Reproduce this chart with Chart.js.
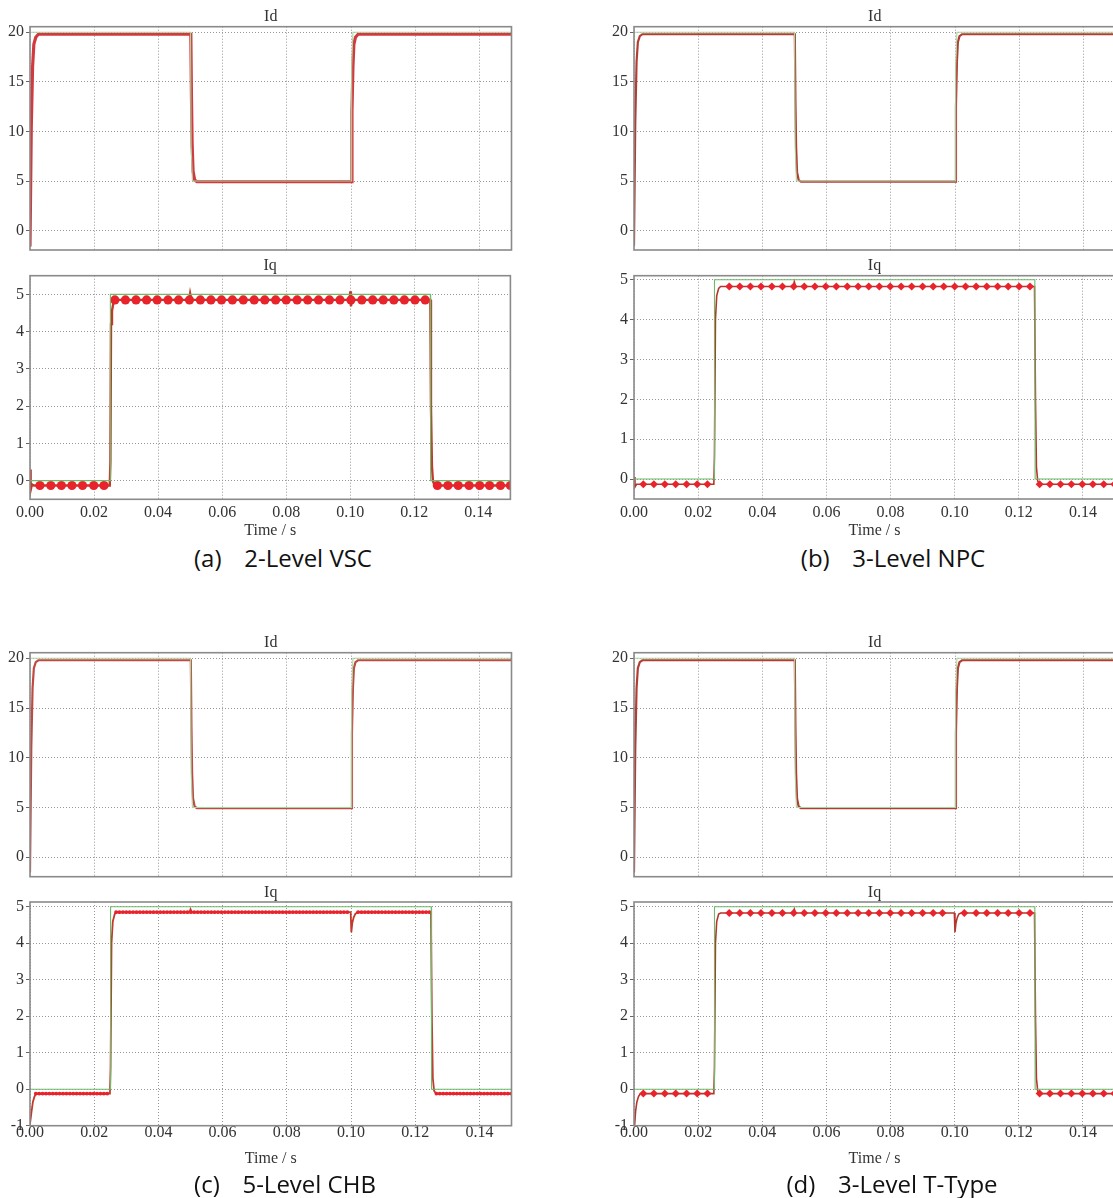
<!DOCTYPE html>
<html>
<head>
<meta charset="utf-8">
<title>Id / Iq current control</title>
<script src="https://cdn.jsdelivr.net/npm/chart.js@4.4.1/dist/chart.umd.min.js"></script>
<style>
  html, body { margin: 0; padding: 0; background: #fff; }
  #page { position: relative; width: 1113px; height: 1198px; overflow: hidden; }
  .plot { position: absolute; }
  .caption {
    position: absolute; transform: translate(-50%, -50%);
    font-family: "Open Sans", "Noto Sans", sans-serif; font-size: 24px; line-height: 1;
    color: #111; white-space: pre;
  }
</style>
</head>
<body>
<div id="page"></div>
<script>
// ---- axis ticks ----
const timeTicks = [0, 0.02, 0.04, 0.06, 0.08, 0.10, 0.12, 0.14];
const idTicks = [0, 5, 10, 15, 20];
const iqTicks = [0, 1, 2, 3, 4, 5];
const iqTicksNeg = [-1, 0, 1, 2, 3, 4, 5];

// ---- Id reference (green) ----
const idRefT = [0, 0.0500, 0.0502, 0.0506, 0.1000, 0.1002, 0.1006, 0.15];
const idRefV = [20, 20, 8.5, 5, 5, 16.5, 20, 20];

// ---- Id measured (red) ----
const idT = [0, 0.0004, 0.0008, 0.0012, 0.0018, 0.0026, 0.0501, 0.0503, 0.0505, 0.0508, 0.0513, 0.0520,
             0.1000, 0.1003, 0.1006, 0.1009, 0.1014, 0.1022, 0.15];
const idA = [-1.6, 10.5, 16.5, 18.8, 19.5, 19.8, 19.8, 13.5, 8.8, 6.0, 5.1, 4.95, 4.95, 12.0, 16.5, 18.8, 19.5, 19.8, 19.8];
const idB = [-1.5, 11.0, 17.0, 19.0, 19.6, 19.8, 19.8, 13.0, 8.5, 5.9, 5.1, 4.95, 4.95, 12.5, 17.0, 19.0, 19.6, 19.8, 19.8];
const idC = [-1.5, 11.0, 17.0, 19.0, 19.6, 19.8, 19.8, 13.0, 8.5, 5.9, 5.1, 4.95, 4.95, 12.5, 17.0, 19.0, 19.6, 19.8, 19.8];
const idD = [-1.5, 11.0, 17.0, 19.0, 19.6, 19.8, 19.8, 13.0, 8.5, 5.9, 5.1, 4.95, 4.95, 12.5, 17.0, 19.0, 19.6, 19.8, 19.8];

// ---- Iq reference (green) ----
const iqRefT = [0, 0.0250, 0.0251, 0.1250, 0.1251, 0.15];
const iqRefV = [0, 0, 5, 5, 0, 0];

// ---- Iq measured (red) ----
const iqTA = [0, 0.0002, 0.0006, 0.0012, 0.0249, 0.0251, 0.0253, 0.0256, 0.0260, 0.0266, 0.0497, 0.0500, 0.0504,
              0.0998, 0.1000, 0.1002, 0.1006, 0.1250, 0.1252, 0.1255, 0.1258, 0.1262, 0.1268, 0.15];
const iqA = [0.3, -0.25, -0.1, -0.13, -0.13, 0.5, 4.2, 4.55, 4.75, 4.85, 4.85, 5.02, 4.85,
             4.85, 5.08, 4.68, 4.85, 4.85, 2.0, 0.4, 0.0, -0.1, -0.13, -0.13];
const iqTB = [0, 0.0003, 0.0008, 0.0249, 0.0251, 0.0254, 0.0258, 0.0264, 0.0270, 0.0497, 0.0500, 0.0504,
              0.1249, 0.1252, 0.1255, 0.1259, 0.1265, 0.15];
const iqB = [0.05, -0.2, -0.13, -0.13, 0.6, 4.0, 4.6, 4.78, 4.83, 4.83, 4.95, 4.83,
             4.83, 2.0, 0.3, -0.05, -0.13, -0.13];
const iqTC = [0, 0.0002, 0.0005, 0.0009, 0.0014, 0.0020, 0.0249, 0.0251, 0.0254, 0.0258, 0.0264, 0.0270,
              0.0497, 0.0500, 0.0504, 0.0999, 0.1001, 0.1004, 0.1008, 0.1013, 0.1020,
              0.1249, 0.1252, 0.1255, 0.1259, 0.1265, 0.15];
const iqC = [-0.95, -0.95, -0.6, -0.35, -0.2, -0.12, -0.12, 0.6, 4.0, 4.6, 4.8, 4.85,
             4.85, 4.93, 4.85, 4.85, 4.3, 4.55, 4.7, 4.8, 4.85,
             4.85, 2.0, 0.3, -0.05, -0.12, -0.12];
const iqD = [-1.0, -0.98, -0.6, -0.35, -0.2, -0.12, -0.12, 0.6, 4.0, 4.6, 4.8, 4.83,
             4.83, 4.93, 4.83, 4.83, 4.3, 4.55, 4.7, 4.8, 4.83,
             4.83, 2.0, 0.3, -0.05, -0.12, -0.12];

// ---- ripple beads on Iq (times) ----
const beadHighA = [0.0265, 0.0298, 0.0331, 0.0364, 0.0397, 0.0431, 0.0464, 0.0498, 0.0532, 0.0565, 0.0598, 0.0632,
                   0.0666, 0.0700, 0.0733, 0.0767, 0.0800, 0.0834, 0.0867, 0.0901, 0.0935, 0.0968, 0.1002,
                   0.1036, 0.1070, 0.1103, 0.1136, 0.1169, 0.1202, 0.1234];
const beadLowA = [0.0031, 0.0065, 0.0098, 0.0131, 0.0164, 0.0199, 0.0231,
                  0.1272, 0.1305, 0.1337, 0.1371, 0.1404, 0.1435, 0.1469, 0.1500];
const beadHighB = [0.0297, 0.0330, 0.0363, 0.0396, 0.0430, 0.0463, 0.0498, 0.0531, 0.0564, 0.0598, 0.0631,
                   0.0665, 0.0699, 0.0732, 0.0765, 0.0799, 0.0833, 0.0866, 0.0900, 0.0933, 0.0966, 0.1000,
                   0.1034, 0.1067, 0.1100, 0.1134, 0.1167, 0.1201, 0.1235];
const beadHighD = [0.0297, 0.0330, 0.0363, 0.0396, 0.0430, 0.0463, 0.0498, 0.0531, 0.0564, 0.0598, 0.0631,
                   0.0665, 0.0699, 0.0732, 0.0765, 0.0799, 0.0833, 0.0866, 0.0900, 0.0933, 0.0962,
                   0.1030, 0.1067, 0.1100, 0.1134, 0.1167, 0.1201, 0.1235];
const beadLowB = [0.0029, 0.0062, 0.0096, 0.0130, 0.0164, 0.0197, 0.0229,
                  0.1265, 0.1297, 0.1330, 0.1364, 0.1398, 0.1431, 0.1465, 0.1498];
const beadLevelsA = [4.85, -0.13];
const beadLevelsB = [4.83, -0.13];
const beadLevelsD = [4.83, -0.12];
// 5-level CHB: fine ripple along the steady spans (start, end pairs)
const chbHighSpans = [0.0268, 0.0998, 0.1022, 0.1249];
const chbLowSpans = [0.0018, 0.0249, 0.1266, 0.1500];
const chbLevels = [4.85, -0.12];

// ---- style ----
const SERIF = '"Liberation Serif", "DejaVu Serif", serif';
const GRID = '#969696';
const GREEN = '#6dbb6a';
const GREEN_ID = '#a8d6a0';
const BEAD = '#e8232b';
const GUTTER = 30;
const FS = 16;

function pts(ts, vs) { return ts.map((t, i) => ({ x: t, y: vs[i] })); }
function flat(ts, v) { return ts.map(t => ({ x: t, y: v })); }

function refLine(ts, vs, color) {
  return { data: pts(ts, vs), borderColor: color || GREEN, borderWidth: 1.1, pointRadius: 0, tension: 0 };
}
function measLine(ts, vs, color, width) {
  return { data: pts(ts, vs), borderColor: color, borderWidth: width, pointRadius: 0, tension: 0 };
}
function beads(ts, v, style, r) {
  return { data: flat(ts, v), showLine: false, pointStyle: style, pointRadius: r,
           pointBackgroundColor: BEAD, pointBorderWidth: 0, pointHoverRadius: r };
}
function chain(spans, v) {
  const out = [];
  for (let i = 0; i < spans.length; i += 2) {
    out.push({ data: flat([spans[i], spans[i + 1]], v), borderColor: BEAD, borderWidth: 3.8,
               borderDash: [0.1, 3.3], borderCapStyle: 'round', pointRadius: 0 });
  }
  return out;
}

// grey box around the plot area + subplot title centred over it
const framePlugin = {
  id: 'frame',
  afterDraw(chart, args, opts) {
    const { ctx, chartArea: a } = chart;
    ctx.save();
    ctx.strokeStyle = '#8a8a8a';
    ctx.lineWidth = 1.6;
    ctx.strokeRect(a.left, a.top, a.right - a.left, a.bottom - a.top);
    ctx.fillStyle = '#333';
    ctx.font = FS + 'px ' + SERIF;
    ctx.textAlign = 'center';
    ctx.textBaseline = 'middle';
    ctx.fillText(opts.title, (a.left + a.right) / 2, a.top - 9.5);
    ctx.restore();
  }
};

const page = document.getElementById('page');

function makePlot(box, title, datasets, yMin, yMax, yTicks, showTime, tickPad) {
  const canvasLeft = box.left - GUTTER;
  const canvasTop = Math.floor(box.top - 21);
  const padTop = box.top - canvasTop;
  const height = Math.ceil(box.top + box.height + box.below - canvasTop);
  const xAxisH = height - padTop - box.height;
  const width = Math.ceil(GUTTER + box.width + 3);
  const rightPad = width - GUTTER - box.width;

  const canvas = document.createElement('canvas');
  canvas.className = 'plot';
  canvas.style.left = canvasLeft + 'px';
  canvas.style.top = canvasTop + 'px';
  canvas.style.width = width + 'px';
  canvas.style.height = height + 'px';
  canvas.width = width;
  canvas.height = height;
  page.appendChild(canvas);

  new Chart(canvas, {
    type: 'line',
    data: { datasets },
    plugins: [framePlugin],
    options: {
      responsive: false,
      animation: false,
      devicePixelRatio: 1,
      events: [],
      layout: { padding: { top: padTop, right: rightPad, left: 0, bottom: 0 } },
      plugins: {
        legend: { display: false },
        tooltip: { enabled: false },
        frame: { title }
      },
      scales: {
        x: {
          type: 'linear', min: 0, max: 0.15,
          afterBuildTicks: s => { s.ticks = timeTicks.map(v => ({ value: v })); },
          afterFit: s => { s.height = xAxisH; s.paddingLeft = 0; s.paddingRight = 0; s.paddingTop = 0; s.paddingBottom = 0; },
          grid: { color: GRID, lineWidth: 1, drawTicks: false },
          border: { display: false, dash: [1, 2] },
          ticks: {
            display: showTime, padding: tickPad, color: '#333', autoSkip: false, maxRotation: 0,
            font: { family: SERIF, size: FS, lineHeight: 1.2 },
            callback: v => v.toFixed(2)
          },
          title: {
            display: showTime, text: 'Time / s', color: '#333', padding: 0,
            font: { family: SERIF, size: FS, lineHeight: 1.2 }
          }
        },
        y: {
          min: yMin, max: yMax,
          afterBuildTicks: s => { s.ticks = yTicks.map(v => ({ value: v })); },
          afterFit: s => { s.width = GUTTER; s.paddingTop = 0; s.paddingBottom = 0; },
          grid: { color: GRID, lineWidth: 1, drawTicks: true, tickLength: 4, tickColor: '#666', tickWidth: 1, tickBorderDash: [] },
          border: { display: false, dash: [1, 2] },
          ticks: {
            padding: 2, color: '#333', autoSkip: false,
            font: { family: SERIF, size: FS },
            callback: v => String(v)
          }
        }
      }
    }
  });
}

function caption(text, x, y) {
  const d = document.createElement('div');
  d.className = 'caption';
  d.textContent = text;
  d.style.left = x + 'px';
  d.style.top = y + 'px';
  page.appendChild(d);
}

const ID_MIN = -1.95, ID_MAX = 20.56;

// (a) 2-Level VSC
makePlot({ left: 30, top: 26.7, width: 481.5, height: 223.3, below: 3 }, 'Id',
  [refLine(idRefT, idRefV, GREEN_ID), measLine(idT, idA, '#d23a3f', 3.2)],
  ID_MIN, ID_MAX, idTicks, false, 0);
makePlot({ left: 30, top: 275.7, width: 481.5, height: 223.6, below: 39.8 }, 'Iq',
  [refLine(iqRefT, iqRefV),
   beads(beadHighA, beadLevelsA[0], 'circle', 4.6),
   beads(beadLowA, beadLevelsA[1], 'circle', 4.6),
   measLine(iqTA, iqA, '#c0392b', 2.4)],
  -0.5, 5.5, iqTicks, true, 4.1);

// (b) 3-Level NPC
makePlot({ left: 634, top: 26.7, width: 481.5, height: 223.3, below: 3 }, 'Id',
  [refLine(idRefT, idRefV, GREEN_ID), measLine(idT, idB, '#b33c33', 2.2)],
  ID_MIN, ID_MAX, idTicks, false, 0);
makePlot({ left: 634, top: 275.7, width: 481.5, height: 223.3, below: 40.1 }, 'Iq',
  [refLine(iqRefT, iqRefV),
   beads(beadHighB, beadLevelsB[0], 'rectRot', 4),
   beads(beadLowB, beadLevelsB[1], 'rectRot', 4),
   measLine(iqTB, iqB, '#b5372c', 1.6)],
  -0.5, 5.1, iqTicks, true, 4.1);

// (c) 5-Level CHB
makePlot({ left: 30, top: 652.7, width: 481.5, height: 224, below: 3 }, 'Id',
  [refLine(idRefT, idRefV, GREEN_ID), measLine(idT, idC, '#bf4a42', 2.2)],
  ID_MIN, ID_MAX, idTicks, false, 0);
makePlot({ left: 30, top: 902, width: 481.5, height: 223.7, below: 41.9 }, 'Iq',
  [refLine(iqRefT, iqRefV),
   ...chain(chbHighSpans, chbLevels[0]),
   ...chain(chbLowSpans, chbLevels[1]),
   measLine(iqTC, iqC, '#c0392b', 1.8)],
  -1, 5.13, iqTicksNeg, true, -2.4);

// (d) 3-Level T-Type
makePlot({ left: 634, top: 652.7, width: 481.5, height: 224, below: 3 }, 'Id',
  [refLine(idRefT, idRefV, GREEN_ID), measLine(idT, idD, '#b33c33', 2.2)],
  ID_MIN, ID_MAX, idTicks, false, 0);
makePlot({ left: 634, top: 902, width: 481.5, height: 223.7, below: 41.9 }, 'Iq',
  [refLine(iqRefT, iqRefV),
   beads(beadHighD, beadLevelsD[0], 'rectRot', 4),
   beads(beadLowB, beadLevelsD[1], 'rectRot', 4),
   measLine(iqTC, iqD, '#b5372c', 1.6)],
  -1, 5.13, iqTicksNeg, true, -2.4);

caption('(a)   \u20092-Level VSC', 283, 558);
caption('(b)   \u20093-Level NPC', 893, 558);
caption('(c)   \u20095-Level CHB', 285, 1184);
caption('(d)   \u20093-Level T-Type', 892, 1184);
</script>
</body>
</html>
